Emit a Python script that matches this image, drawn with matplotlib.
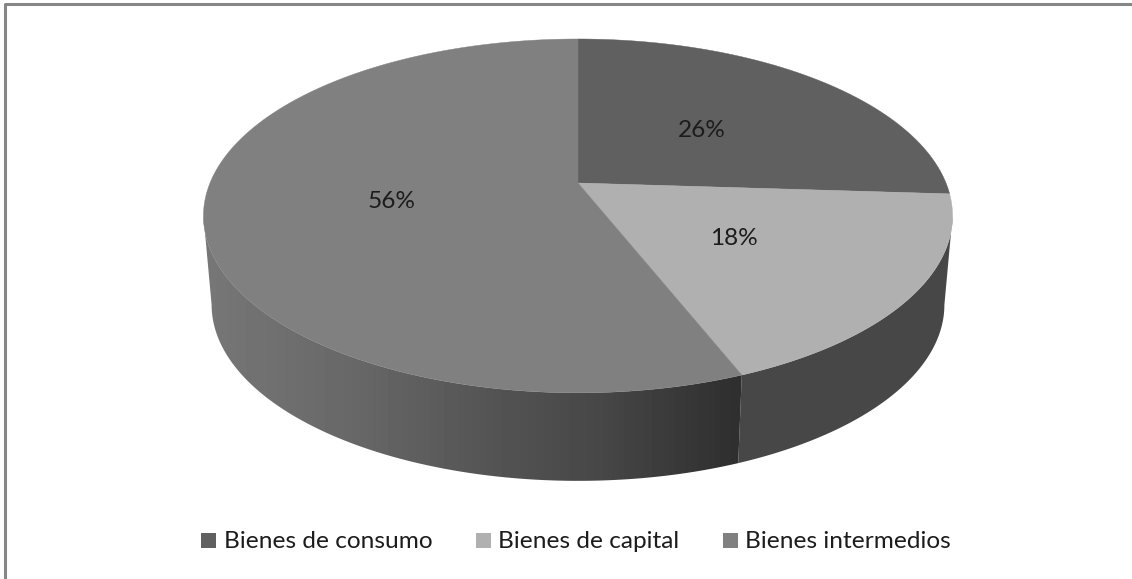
import numpy as np
import matplotlib
matplotlib.use('Agg')
import matplotlib.pyplot as plt
from matplotlib.patches import Rectangle, Polygon

categories = ['Bienes de consumo', 'Bienes de capital', 'Bienes intermedios']
values = [26, 18, 56]
top_colors = ['#606060', '#b0b0b0', '#808080']
legend_colors = ['#606060', '#b0b0b0', '#808080']

WIDTH = 1132
HEIGHT = 579
K = 0.186  # perspective strength


def project(theta, r=1.0, cy=183.0, a=368.0, b=170.8):
    # theta clockwise from the top, degrees
    t = np.radians(theta)
    w = 1 + K * r * np.cos(t)
    return 578 + a * r * np.sin(t) / w, cy - b * r * np.cos(t) / w


def bottom(theta):
    return project(theta, cy=272.0, a=360.0, b=170.0)


plt.rcParams['font.family'] = ['Lato', 'DejaVu Sans']
fig = plt.figure(figsize=(WIDTH / 100, HEIGHT / 100), dpi=100)
ax = fig.add_axes([0, 0, 1, 1])
ax.axis('off')

# outer frame, only top and left show up
ax.plot([5, 5, WIDTH], [HEIGHT, 4, 4], color='#868686', lw=2.2, solid_capstyle='butt')

edges = np.cumsum([0] + values) * 3.6
vis_lo = np.degrees(np.arccos(-K))
vis_hi = 360 - vis_lo

# side wall: one gradient image per slice, clipped to the wall outline
px = np.arange(WIDTH)
grad = np.interp(px, [212, 350, 490, 600, 735], [0x76, 0x68, 0x54, 0x47, 0x2f])
shades = [grad, np.full(WIDTH, 0x47), grad]
for i in range(len(values)):
    lo = max(edges[i], vis_lo)
    hi = min(edges[i + 1], vis_hi)
    if hi <= lo:
        continue
    th = np.linspace(lo, hi, 300)
    xt, yt = project(th)
    xb, yb = bottom(th)
    outline = np.c_[np.r_[xt, xb[::-1]], np.r_[yt, yb[::-1]]]
    poly = Polygon(outline, closed=True, fc='none', ec='none', transform=ax.transData)
    ax.add_patch(poly)
    im = ax.imshow(shades[i][None, :], cmap='gray', vmin=0, vmax=255, aspect='auto',
                   extent=(0, WIDTH, HEIGHT, 0), interpolation='nearest')
    im.set_clip_path(poly)

ax.set_xlim(0, WIDTH)
ax.set_ylim(HEIGHT, 0)

# top face
for i in range(len(values)):
    th = np.linspace(edges[i], edges[i + 1], 200)
    xs, ys = project(th)
    ax.fill(np.r_[578, xs], np.r_[183, ys], color=top_colors[i], lw=0.3, zorder=3)

# value labels sit half way out along each slice
for i, v in enumerate(values):
    lx, ly = project((edges[i] + edges[i + 1]) / 2, r=0.5)
    ax.text(lx - 2, ly + 2, '%d%%' % v, ha='center', va='center', fontsize=17.6,
            color='#1c1c1c', zorder=4)

# legend
square_x = [201, 476, 723]
text_x = [224, 498, 745]
for i, name in enumerate(categories):
    ax.add_patch(Rectangle((square_x[i], 533), 15, 15, color=legend_colors[i], lw=0))
    ax.text(text_x[i], 541, name, ha='left', va='center', fontsize=17.6, color='#1c1c1c')

fig.savefig('out.png', dpi=100)
